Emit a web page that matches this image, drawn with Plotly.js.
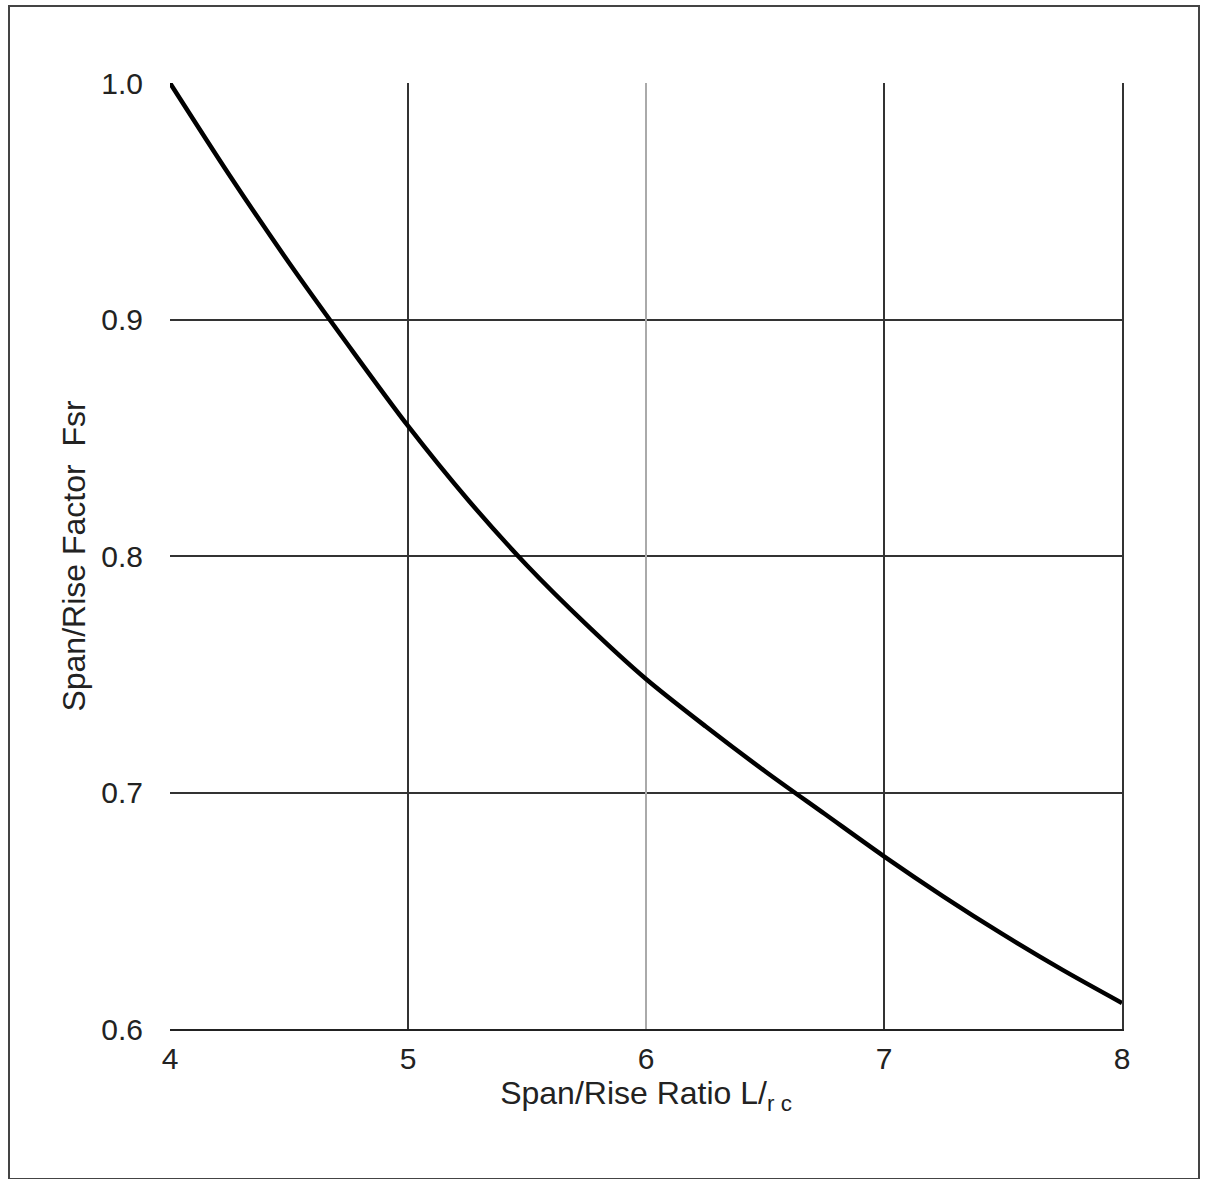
<!DOCTYPE html>
<html>
<head>
<meta charset="utf-8">
<script src="https://cdn.plot.ly/plotly-3.0.1.min.js"></script>
<style>
  html, body { margin: 0; padding: 0; background: #fff; overflow: hidden; }
  #chart { width: 1205px; height: 1179px; }
  #frame { position: absolute; left: 8px; top: 5px; width: 1188px; height: 1171px;
           border: 2px solid #444; pointer-events: none; }
</style>
</head>
<body>
<div id="chart"></div>
<div id="frame"></div>
<script>
// Span/Rise ratio (x) and Span/Rise factor Fsr (y)
const spanRiseRatio = [4.0, 4.25, 4.5, 4.75, 5.0, 5.25, 5.5, 5.75, 6.0, 6.25, 6.5, 6.75, 7.0, 7.25, 7.5, 7.75, 8.0];
const spanRiseFactor = [1.0, 0.961, 0.924, 0.889, 0.855, 0.824, 0.796, 0.771, 0.748, 0.728, 0.709, 0.691, 0.673, 0.656, 0.640, 0.625, 0.611];

const xTickVals = [4, 5, 6, 7, 8];
const xTickText = ['4', '5', '6', '7', '8'];
const yTickVals = [0.6, 0.7, 0.8, 0.9, 1.0];
const yTickText = ['0.6', '0.7', '0.8', '0.9', '1.0'];
const yGridVals = [0.7, 0.8, 0.9];
const xDarkGridVals = [5, 7];
const xLightGridVals = [6];

const FONT = 'Liberation Sans, Arial, sans-serif';

const trace = {
  x: spanRiseRatio,
  y: spanRiseFactor,
  type: 'scatter',
  mode: 'lines',
  line: { color: '#000', width: 4.5, shape: 'spline', smoothing: 0.8 },
  hoverinfo: 'skip',
  showlegend: false
};

const layout = {
  width: 1205,
  height: 1179,
  margin: { l: 170, r: 83, t: 83, b: 150 },
  paper_bgcolor: '#fff',
  plot_bgcolor: '#fff',
  font: { family: FONT, color: '#222' },
  xaxis: {
    range: [4, 8],
    tickvals: xTickVals,
    ticktext: xTickText,
    ticks: '',
    tickfont: { size: 30, family: FONT, color: '#222' },
    ticklabelstandoff: 2,
    showgrid: false,
    zeroline: false,
    showline: true,
    linecolor: '#222',
    linewidth: 2,
    title: { text: 'Span/Rise Ratio L/<sub>r</sub><sub> c</sub>', font: { size: 32, family: FONT, color: '#222' }, standoff: 4 },
    fixedrange: true
  },
  xaxis2: {
    overlaying: 'x',
    range: [4, 8],
    tickvals: xDarkGridVals,
    showticklabels: false,
    ticks: '',
    showgrid: true,
    gridcolor: '#333',
    gridwidth: 2,
    zeroline: false,
    showline: false
  },
  xaxis3: {
    overlaying: 'x',
    range: [4, 8],
    tickvals: xLightGridVals,
    showticklabels: false,
    ticks: '',
    showgrid: true,
    gridcolor: '#aaa',
    gridwidth: 1.5,
    zeroline: false,
    showline: false
  },
  yaxis: {
    range: [0.6, 1.0],
    tickvals: yTickVals,
    ticktext: yTickText,
    ticks: '',
    tickfont: { size: 30, family: FONT, color: '#222' },
    ticklabelstandoff: 26,
    showgrid: false,
    zeroline: false,
    showline: false,
    title: { text: 'Span/Rise Factor  Fsr', font: { size: 32, family: FONT, color: '#222' }, standoff: 6 },
    fixedrange: true
  },
  yaxis2: {
    overlaying: 'y',
    side: 'right',
    range: [0.6, 1.0],
    tickvals: yGridVals,
    showticklabels: false,
    ticks: '',
    showgrid: true,
    gridcolor: '#333',
    gridwidth: 2,
    zeroline: false,
    showline: true,
    linecolor: '#333',
    linewidth: 2
  }
};

const gridHelpers = [
  { x: [4, 8], y: [null, null], xaxis: 'x2', yaxis: 'y2', type: 'scatter', mode: 'lines', showlegend: false, hoverinfo: 'skip' },
  { x: [4, 8], y: [null, null], xaxis: 'x3', yaxis: 'y', type: 'scatter', mode: 'lines', showlegend: false, hoverinfo: 'skip' }
];

Plotly.newPlot('chart', gridHelpers.concat([trace]), layout, { staticPlot: true, displayModeBar: false });
</script>
</body>
</html>
